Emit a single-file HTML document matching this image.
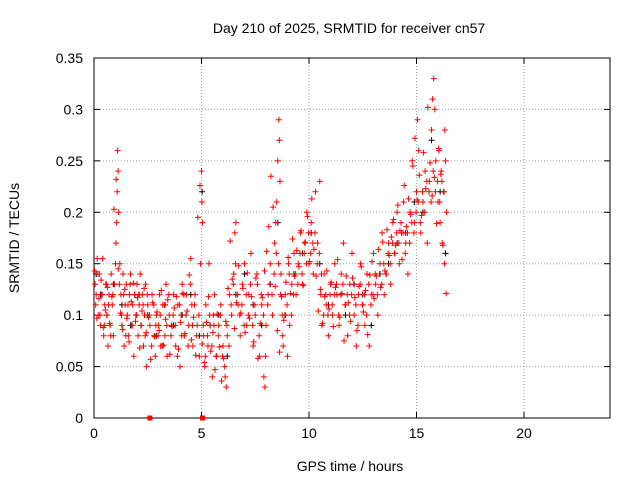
<!DOCTYPE html>
<html><head><meta charset="utf-8"><style>
html,body{margin:0;padding:0;background:#fff;}
svg{display:block;font-family:"Liberation Sans",sans-serif;}
</style></head><body>
<svg id="chart" width="640" height="480" viewBox="0 0 640 480" xmlns="http://www.w3.org/2000/svg">
<text x="349" y="33" font-size="14" text-anchor="middle">Day 210 of 2025, SRMTID for receiver cn57</text>
<text x="350" y="471" font-size="14" text-anchor="middle">GPS time / hours</text>
<text x="19" y="238" font-size="14" text-anchor="middle" transform="rotate(-90 19 238)">SRMTID / TECUs</text>
<g id="grid"></g>
<g id="axes"></g>
<g id="black-series"></g>
<g id="red-series"></g>
</svg>
<script>
const xTicks=[0,5,10,15,20];
const yTicks=[0,0.05,0.1,0.15,0.2,0.25,0.3,0.35];
const yTickLabels=["0","0.05","0.1","0.15","0.2","0.25","0.3","0.35"];
const redTimes=[0.05,0.1,0.15,0.2,0.25,0.3,0.35,0.4,0.45,0.5,0.55,0.6,0.65,0.7,0.75,0.8,0.85,0.9,0.95,1.0,1.05,1.1,1.12,1.15,1.2,1.25,1.3,1.35,1.4,1.45,1.5,1.55,1.6,1.65,1.7,1.75,1.8,1.85,1.9,1.95,2.0,2.05,2.1,2.15,2.2,2.25,2.3,2.35,2.4,2.45,2.5,2.6,2.7,2.8,2.85,2.9,3.0,3.05,3.1,3.2,3.3,3.35,3.4,3.5,3.6,3.7,3.8,3.9,4.0,4.05,4.1,4.2,4.3,4.4,4.5,4.55,4.6,4.7,4.8,4.9,4.95,5.0,5.02,5.05,5.1,5.15,5.2,5.3,5.35,5.4,5.5,5.55,5.6,5.7,5.8,5.9,6.0,6.1,6.15,6.2,6.3,6.4,6.5,6.55,6.6,6.7,6.8,6.9,7.0,7.1,7.2,7.3,7.4,7.5,7.6,7.7,7.8,7.9,7.95,8.0,8.1,8.2,8.3,8.4,8.45,8.5,8.55,8.6,8.62,8.65,8.7,8.75,8.8,8.9,9.0,9.05,9.1,9.2,9.3,9.4,9.5,9.6,9.7,9.8,9.9,10.0,10.1,10.2,10.3,10.4,10.5,10.55,10.6,10.7,10.8,10.9,11.0,11.1,11.2,11.3,11.4,11.5,11.6,11.7,11.8,11.9,12.0,12.1,12.2,12.3,12.4,12.5,12.6,12.7,12.8,12.9,13.0,13.1,13.2,13.3,13.4,13.5,13.6,13.7,13.8,13.9,14.0,14.1,14.2,14.3,14.4,14.5,14.6,14.7,14.8,14.9,15.0,15.05,15.1,15.2,15.3,15.4,15.5,15.6,15.7,15.75,15.8,15.85,15.9,16.0,16.05,16.1,16.15,16.2,16.25,16.3,16.32,16.35,16.4,
0.08,0.18,0.28,0.38,0.48,0.58,0.68,0.78,0.88,1.02,1.08,1.18,1.28,1.38,1.48,1.58,1.68,1.78,1.88,1.98,2.08,2.18,2.28,2.38,2.48,2.58,2.68,2.78,2.88,2.98,3.08,3.18,3.28,3.38,3.48,3.58,3.68,3.78,3.88,3.98,4.08,4.18,4.28,4.38,4.48,4.58,4.68,4.78,4.88,5.08,5.18,5.28,5.38,5.48,5.58,5.68,5.78,5.88,5.98,6.08,6.18,6.28,6.38,6.48,6.58,6.68,6.78,6.88,6.98,7.08,7.18,7.28,7.38,7.48,7.58,7.68,7.78,7.88,7.98,8.08,8.18,8.28,8.38,8.48,8.58,8.68,8.78,8.88,8.98,9.08,9.18,9.28,9.38,9.48,9.58,9.68,9.78,9.88,9.98,10.08,10.18,10.28,10.38,10.48,10.58,10.68,10.78,10.88,10.98,11.08,11.18,11.28,11.38,11.48,11.58,11.68,11.78,11.88,11.98,12.08,12.18,12.28,12.38,12.48,12.58,12.68,12.78,12.88,12.98,13.08,13.18,13.28,13.38,13.48,13.58,13.68,13.78,13.88,13.98,14.08,14.18,14.28,14.38,14.48,14.58,14.68,14.78,14.88,14.98,15.08,15.18,15.28,15.38,15.48,15.58,15.68,15.78,15.88,15.98,16.08,16.18,16.28,16.38,
0.03,0.13,0.23,0.33,0.43,0.53,0.63,0.73,0.83,0.93,1.03,1.13,1.23,1.33,1.43,1.53,1.63,1.73,1.83,1.93,2.03,2.13,2.23,2.33,2.43,2.53,2.63,2.73,2.83,2.93,3.03,3.13,3.23,3.33,3.43,3.53,3.63,3.73,3.83,3.93,4.03,4.13,4.23,4.33,4.43,4.53,4.63,4.73,4.83,4.93,5.03,5.13,5.23,5.33,5.43,5.53,5.63,5.73,5.83,5.93,6.03,6.13,6.23,6.33,6.43,6.53,6.63,6.73,6.83,6.93,7.03,7.13,7.23,7.33,7.43,7.53,7.63,7.73,7.83,7.93,8.03,8.13,8.23,8.33,8.43,8.53,8.63,8.73,8.83,8.93,9.03,9.13,9.23,9.33,9.43,9.53,9.63,9.73,9.83,9.93,10.03,10.13,10.23,10.33,10.43,10.53,10.63,10.73,10.83,10.93,11.03,11.13,11.23,11.33,11.43,11.53,11.63,11.73,11.83,11.93,12.03,12.13,12.23,12.33,12.43,12.53,12.63,12.73,12.83,12.93,13.03,13.13,13.23,13.33,13.43,13.53,13.63,13.73,13.83,13.93,14.03,14.13,14.23,14.33,14.43,14.53,14.63,14.73,14.83,14.93,15.03,15.13,15.23,15.33,15.43,15.53,15.63,15.73,15.83,15.93,16.03,16.13,16.23,16.33];
const redValues=[0.13,0.12,0.155,0.10,0.14,0.09,0.12,0.155,0.08,0.11,0.13,0.10,0.07,0.12,0.09,0.14,0.11,0.08,0.13,0.15,0.19,0.26,0.24,0.20,0.15,0.12,0.09,0.14,0.07,0.11,0.13,0.10,0.08,0.12,0.14,0.09,0.11,0.06,0.12,0.10,0.13,0.08,0.11,0.14,0.09,0.12,0.07,0.10,0.13,0.05,0.11,0.09,0.12,0.08,0.06,0.10,0.09,0.12,0.07,0.11,0.08,0.13,0.06,0.10,0.09,0.12,0.07,0.11,0.05,0.10,0.13,0.08,0.12,0.09,0.155,0.11,0.07,0.12,0.09,0.06,0.15,0.24,0.21,0.19,0.08,0.05,0.11,0.07,0.15,0.09,0.04,0.10,0.12,0.06,0.09,0.11,0.07,0.04,0.03,0.08,0.12,0.10,0.14,0.18,0.19,0.11,0.08,0.13,0.15,0.09,0.12,0.16,0.07,0.10,0.13,0.06,0.11,0.04,0.03,0.09,0.12,0.15,0.10,0.17,0.19,0.21,0.25,0.29,0.27,0.23,0.14,0.10,0.07,0.12,0.06,0.15,0.09,0.13,0.16,0.12,0.15,0.18,0.13,0.17,0.20,0.15,0.19,0.14,0.22,0.17,0.23,0.12,0.09,0.14,0.11,0.08,0.13,0.10,0.15,0.12,0.09,0.14,0.17,0.11,0.08,0.13,0.16,0.10,0.07,0.12,0.15,0.11,0.09,0.14,0.07,0.12,0.16,0.13,0.10,0.15,0.18,0.12,0.14,0.17,0.13,0.19,0.16,0.20,0.15,0.18,0.21,0.17,0.14,0.20,0.25,0.19,0.22,0.29,0.26,0.18,0.21,0.24,0.17,0.23,0.28,0.31,0.33,0.30,0.25,0.21,0.26,0.19,0.24,0.17,0.22,0.15,0.28,0.25,0.20,
0.11,0.14,0.10,0.12,0.09,0.13,0.11,0.08,0.12,0.17,0.22,0.13,0.10,0.12,0.08,0.11,0.13,0.09,0.12,0.10,0.12,0.09,0.11,0.08,0.12,0.10,0.07,0.11,0.09,0.08,0.10,0.07,0.11,0.09,0.12,0.08,0.10,0.09,0.06,0.11,0.08,0.12,0.10,0.07,0.13,0.09,0.11,0.08,0.10,0.09,0.06,0.08,0.10,0.07,0.09,0.06,0.08,0.10,0.06,0.05,0.09,0.07,0.11,0.13,0.15,0.12,0.10,0.11,0.09,0.12,0.10,0.13,0.09,0.11,0.14,0.08,0.12,0.10,0.06,0.11,0.13,0.12,0.14,0.16,0.15,0.12,0.08,0.10,0.11,0.14,0.10,0.12,0.14,0.13,0.16,0.14,0.16,0.15,0.18,0.16,0.17,0.18,0.15,0.16,0.14,0.10,0.12,0.10,0.12,0.11,0.12,0.13,0.10,0.12,0.13,0.11,0.12,0.10,0.12,0.13,0.11,0.09,0.13,0.11,0.12,0.10,0.13,0.11,0.12,0.14,0.12,0.14,0.13,0.15,0.14,0.16,0.15,0.17,0.16,0.18,0.17,0.19,0.18,0.16,0.18,0.17,0.19,0.18,0.20,0.21,0.19,0.22,0.20,0.23,0.22,0.21,0.24,0.22,0.23,0.21,0.23,0.22,
0.121,0.143,0.097,0.116,0.134,0.088,0.105,0.127,0.092,0.118,
0.203,0.232,0.145,0.102,0.086,0.125,0.097,0.074,0.113,0.131,
0.094,0.117,0.068,0.104,0.126,0.083,0.098,0.057,0.112,0.079,
0.103,0.085,0.124,0.071,0.096,0.115,0.062,0.089,0.107,0.118,
0.067,0.093,0.121,0.082,0.104,0.139,0.076,0.098,0.061,0.195,
0.226,0.072,0.054,0.093,0.118,0.065,0.083,0.047,0.101,0.069,
0.036,0.058,0.094,0.126,0.172,0.135,0.087,0.112,0.148,0.102,
0.126,0.083,0.141,0.097,0.118,0.074,0.136,0.058,0.092,0.117,
0.143,0.162,0.186,0.235,0.205,0.128,0.085,0.064,0.118,0.095,
0.132,0.156,0.121,0.174,0.138,0.163,0.147,0.182,0.129,0.171,
0.196,0.152,0.213,0.164,0.138,0.104,0.125,0.092,0.118,0.143,
0.106,0.132,0.089,0.127,0.154,0.098,0.121,0.075,0.138,0.112,
0.094,0.136,0.117,0.085,0.128,0.147,0.103,0.124,0.081,0.139,
0.152,0.116,0.138,0.164,0.127,0.171,0.143,0.183,0.158,0.176,
0.193,0.168,0.207,0.182,0.154,0.226,0.186,0.213,0.198,0.245,
0.272,0.212,0.236,0.197,0.258,0.223,0.302,0.248,0.216,0.234,
0.189,0.262,0.237,0.168];
const blackTimes=[0.1,0.3,0.6,0.9,1.3,1.7,2.1,2.5,2.9,3.3,3.7,4.1,4.5,4.9,5.03,5.4,5.8,6.2,6.6,7.0,7.4,7.8,8.2,8.55,8.9,9.3,9.7,10.1,10.5,10.9,11.3,11.7,12.1,12.5,12.9,13.3,13.7,14.1,14.5,14.9,15.3,15.7,16.1,16.35];
const blackValues=[0.14,0.12,0.10,0.13,0.11,0.09,0.12,0.10,0.08,0.11,0.09,0.10,0.12,0.08,0.22,0.09,0.10,0.06,0.12,0.14,0.11,0.09,0.13,0.19,0.10,0.14,0.16,0.18,0.15,0.11,0.12,0.10,0.13,0.12,0.09,0.14,0.15,0.17,0.18,0.21,0.20,0.27,0.22,0.16];
const redSquareTimes=[2.6,5.05];
const redSquareValues=[0,0];

const X0=94,X1=610,Y0=418,Y1=58,XMAX=24,YMAX=0.35;
const xs=t=>X0+(X1-X0)*t/XMAX;
const ys=v=>Y0-(Y0-Y1)*v/YMAX;
const NS="http://www.w3.org/2000/svg";
function mk(tag,attrs,parent){const e=document.createElementNS(NS,tag);for(const k in attrs)e.setAttribute(k,attrs[k]);parent.appendChild(e);return e;}
const grid=document.getElementById('grid'),axes=document.getElementById('axes');
xTicks.forEach((t,i)=>{const x=xs(t);
 if(t>0){const g=mk('line',{x1:x,y1:Y0,x2:x,y2:Y1,stroke:'#a0a0a0','stroke-dasharray':'1,2','stroke-width':1},grid);
 
 }
 const tk=mk('text',{x:x,y:Y0+20,'font-size':14,'text-anchor':'middle'},axes);tk.textContent=String(t);
 
 
 mk('line',{x1:x,y1:Y0,x2:x,y2:Y0-6,stroke:'#000'},axes);mk('line',{x1:x,y1:Y1,x2:x,y2:Y1+6,stroke:'#000'},axes);});
yTicks.forEach((v,i)=>{const y=ys(v);
 if(v>0&&v<YMAX){const g=mk('line',{x1:X0,y1:y,x2:X1,y2:y,stroke:'#a0a0a0','stroke-dasharray':'1,2','stroke-width':1},grid);
 
 }
 const tk=mk('text',{x:X0-11,y:y+5,'font-size':14,'text-anchor':'end'},axes);tk.textContent=yTickLabels[i];
 
 
 mk('line',{x1:X0,y1:y,x2:X0+6,y2:y,stroke:'#000'},axes);mk('line',{x1:X1,y1:y,x2:X1-6,y2:y,stroke:'#000'},axes);});
const fr=mk('rect',{x:X0,y:Y1,width:X1-X0,height:Y0-Y1,fill:'none',stroke:'#000'},axes);


function plus(g,t,v,col,name){const x=xs(t),y=ys(v);
 const p=mk('path',{d:`M${x-3},${y}h6M${x},${y-3}v6`,stroke:col,'stroke-width':1},g);
 
 }
const bg=document.getElementById('black-series'),rg=document.getElementById('red-series');
blackTimes.forEach((t,i)=>plus(bg,t,blackValues[i],'#000','black-point'));
redTimes.forEach((t,i)=>plus(rg,t,redValues[i],'#ff0000','red-point'));
redSquareTimes.forEach((t,i)=>{const r=mk('rect',{x:xs(t)-2.5,y:ys(redSquareValues[i])-2.5,width:5,height:5,fill:'#ff0000'},rg);
 
 });
</script>
</body></html>
